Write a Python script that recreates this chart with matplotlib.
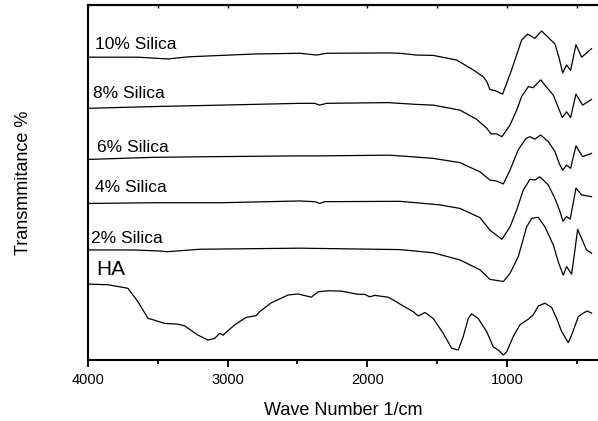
import matplotlib
matplotlib.use('Agg')
from matplotlib import pyplot as plt
from matplotlib.ticker import MultipleLocator, NullFormatter

plt.rcParams['font.family'] = ['Liberation Sans', 'DejaVu Sans']

# Espectros FTIR (numero de onda en 1/cm, transmitancia desplazada)
ha_wn = [4000, 3857, 3714, 3642, 3570, 3547, 3451, 3356, 3308, 3212, 3141, 3093, 3057, 3033,
         2950, 2867, 2795, 2771, 2688, 2568, 2496, 2401, 2353, 2282, 2186, 2067, 2019, 1983,
         1947, 1852, 1814, 1742, 1671, 1635, 1587, 1528, 1456, 1396, 1349, 1313, 1277, 1253,
         1206, 1145, 1098, 1062, 1026, 1002, 955, 907, 847, 812, 776, 728, 680, 644, 608, 561,
         537, 489, 454, 425, 394]
ha_t = [21.4, 21.2, 20.2, 16.4, 11.7, 11.5, 10.3, 10.1, 9.6, 7.0, 5.6, 6.1, 7.5, 7.0,
        9.9, 12.0, 12.5, 13.6, 16.1, 18.3, 18.6, 17.7, 19.2, 19.5, 19.4, 18.5, 18.5, 17.8,
        18.2, 17.7, 16.9, 15.2, 13.6, 12.4, 13.4, 11.7, 7.5, 3.3, 2.8, 6.6, 11.7, 13.0,
        11.7, 8.0, 3.7, 2.8, 1.4, 2.3, 6.6, 9.9, 11.5, 12.7, 15.2, 16.0, 14.8, 11.7, 8.0, 4.9,
        7.0, 12.2, 13.2, 13.8, 13.2]

s2_wn = [4000, 3676, 3484, 3436, 3198, 2482, 1766, 1528, 1337, 1193, 1122, 1086, 1026, 978,
         919, 859, 823, 776, 728, 668, 633, 597, 573, 537, 513, 494, 465, 430, 394]
s2_t = [31.0, 31.0, 30.7, 30.5, 31.2, 31.5, 31.1, 30.2, 28.2, 25.4, 22.7, 22.5, 22.1, 24.4,
        29.1, 37.5, 39.9, 40.2, 37.5, 32.4, 27.7, 23.9, 26.3, 24.2, 31.0, 36.8, 34.2, 31.0, 30.1]

s4_wn = [4000, 3522, 3046, 2482, 2377, 2341, 2306, 1766, 1480, 1337, 1193, 1122, 1086, 1036,
         978, 930, 883, 835, 800, 764, 704, 656, 620, 599, 573, 547, 506, 465, 394]
s4_t = [44.1, 44.3, 44.3, 44.8, 44.6, 44.1, 44.6, 44.7, 43.7, 42.7, 40.1, 36.6, 35.5, 34.0,
        37.5, 42.3, 47.9, 50.9, 50.7, 51.6, 49.3, 45.5, 41.8, 39.1, 40.4, 39.7, 48.4, 46.5, 46.0]

s6_wn = [4000, 3522, 3046, 2482, 2330, 1852, 1766, 1528, 1337, 1193, 1122, 1074, 1026, 978,
         919, 864, 835, 800, 759, 704, 656, 626, 601, 573, 544, 506, 458, 394]
s6_t = [56.5, 57.1, 57.3, 57.5, 57.5, 57.7, 57.5, 56.8, 55.6, 53.0, 50.7, 50.4, 49.6, 53.5,
        59.2, 62.4, 62.9, 62.2, 63.4, 61.5, 58.7, 55.4, 53.5, 54.9, 54.0, 60.3, 57.3, 58.2]

s8_wn = [4000, 3522, 3046, 2482, 2377, 2341, 2291, 1852, 1647, 1528, 1337, 1217, 1145, 1114,
         1074, 1036, 978, 930, 895, 847, 812, 759, 668, 633, 604, 573, 544, 506, 458, 394]
s8_t = [70.9, 71.4, 71.8, 72.3, 72.3, 71.8, 72.3, 72.5, 72.0, 71.8, 70.4, 67.8, 65.3, 63.7,
        63.7, 62.9, 66.2, 70.4, 74.2, 77.0, 76.7, 78.9, 74.6, 71.2, 68.3, 69.9, 68.3, 74.9, 71.8, 73.4]

s10_wn = [4000, 3642, 3427, 3284, 2806, 2482, 2363, 2291, 1852, 1766, 1647, 1528, 1360, 1241,
          1170, 1143, 1122, 1086, 1031, 967, 895, 852, 800, 752, 656, 626, 601, 573, 544, 506,
          465, 394]
s10_t = [85.3, 85.3, 84.8, 85.4, 86.2, 86.4, 85.9, 86.4, 86.5, 86.4, 85.9, 85.8, 84.5, 81.7,
         79.8, 78.3, 76.2, 75.9, 74.9, 81.7, 90.1, 91.8, 90.6, 92.7, 89.0, 85.0, 80.9, 83.1, 81.6,
         88.8, 85.3, 87.7]

etiquetas = ['HA', '2% Silica', '4% Silica', '6% Silica', '8% Silica', '10% Silica']

fig = plt.figure(figsize=(5.98, 4.21), dpi=100)
ax = fig.add_axes([88 / 598, 61 / 421, 510 / 598, 355 / 421])

for wn, t in [(ha_wn, ha_t), (s2_wn, s2_t), (s4_wn, s4_t), (s6_wn, s6_t),
              (s8_wn, s8_t), (s10_wn, s10_t)]:
    ax.plot(wn, t, color='black', linewidth=0.9)

# Etiquetas de cada espectro
ax.text(3938, 23.9, etiquetas[0], fontsize=15)
ax.text(3976, 33.0, etiquetas[1], fontsize=12.5)
ax.text(3948, 47.4, etiquetas[2], fontsize=12.5)
ax.text(3933, 58.5, etiquetas[3], fontsize=12.5)
ax.text(3964, 73.7, etiquetas[4], fontsize=12.5)
ax.text(3950, 87.5, etiquetas[5], fontsize=12.5)

ax.set_xlim(4000, 348)
ax.set_ylim(0, 100)

ax.spines['right'].set_visible(False)
for s in ['left', 'bottom', 'top']:
    ax.spines[s].set_linewidth(1.5)

ax.xaxis.set_major_locator(MultipleLocator(1000))
ax.xaxis.set_minor_locator(MultipleLocator(500))
ax.tick_params(axis='x', which='major', direction='out', length=5, width=1.3,
               labelsize=10.5, pad=4)
ax.tick_params(axis='x', which='minor', direction='out', length=3, width=1.3)
ax.set_yticks([])

# marcas pequenas en el borde superior
arriba = ax.secondary_xaxis('top')
arriba.xaxis.set_major_locator(MultipleLocator(500))
arriba.xaxis.set_major_formatter(NullFormatter())
arriba.tick_params(direction='in', length=2, width=1)
arriba.spines['top'].set_linewidth(1.5)

ax.set_xlabel('Wave Number 1/cm', fontsize=13, labelpad=11)
ax.set_ylabel('Transmmitance %', fontsize=13, labelpad=40)

fig.savefig('out.png', dpi=100)
